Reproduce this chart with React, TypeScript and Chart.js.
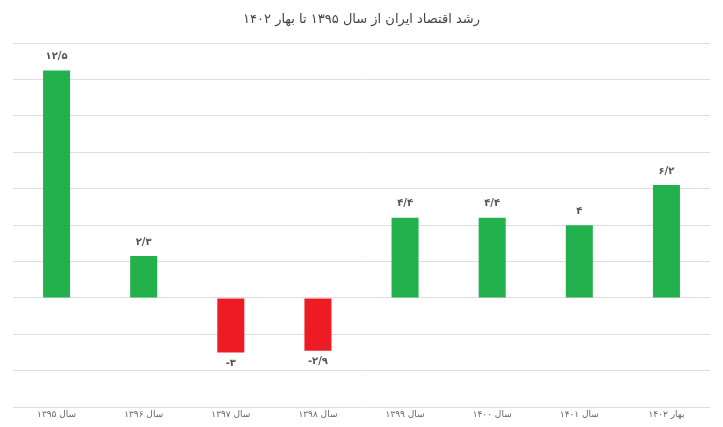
import React, { useEffect, useRef } from "react";
import { Chart, registerables } from "chart.js";

Chart.register(...registerables);

const TITLE = "رشد اقتصاد ایران از سال ۱۳۹۵ تا بهار ۱۴۰۲";
const CATEGORIES = [
  "سال ۱۳۹۵",
  "سال ۱۳۹۶",
  "سال ۱۳۹۷",
  "سال ۱۳۹۸",
  "سال ۱۳۹۹",
  "سال ۱۴۰۰",
  "سال ۱۴۰۱",
  "بهار ۱۴۰۲",
];
const GROWTH = [12.5, 2.3, -3, -2.9, 4.4, 4.4, 4, 6.2];
const Y_MIN = -6;
const Y_MAX = 14;
const Y_STEP = 2;

const GREEN = "#22b14c";
const RED = "#ed1c24";
const FONT = "'DejaVu Sans', 'Noto Sans', sans-serif";

const toPersian = (v: number): string => {
  const digits = "۰۱۲۳۴۵۶۷۸۹";
  const s = String(v).replace(".", "/");
  return s.replace(/[0-9]/g, (d) => digits[Number(d)]);
};

const valueLabels = {
  id: "valueLabels",
  afterDatasetsDraw(chart: any) {
    const ctx = chart.ctx;
    const meta = chart.getDatasetMeta(0);
    ctx.save();
    ctx.font = `bold 10px ${FONT}`;
    ctx.fillStyle = "#555555";
    ctx.textAlign = "center";
    ctx.textBaseline = "middle";
    meta.data.forEach((bar: any, i: number) => {
      const v = GROWTH[i];
      const y = v >= 0 ? bar.y - 14 : bar.y + 11;
      ctx.fillText(toPersian(v), bar.x, y);
    });
    ctx.restore();
  },
};

export default function App() {
  const ref = useRef<HTMLCanvasElement | null>(null);
  useEffect(() => {
    if (!ref.current) return;
    const chart = new Chart(ref.current, {
      type: "bar",
      data: {
        labels: CATEGORIES,
        datasets: [
          {
            data: GROWTH,
            backgroundColor: GROWTH.map((v) => (v >= 0 ? GREEN : RED)),
            barPercentage: 0.31,
            categoryPercentage: 1,
            borderWidth: 0,
          },
        ],
      },
      options: {
        animation: false,
        responsive: false,
        layout: { padding: { left: 13, right: 13, top: 0, bottom: 5 } },
        plugins: {
          legend: { display: false },
          tooltip: { enabled: false },
          title: {
            display: true,
            text: TITLE,
            color: "#444444",
            font: { family: FONT, size: 13, weight: "normal" },
            padding: { top: 12, bottom: 15.5 },
          },
        },
        scales: {
          x: {
            grid: { display: false, drawTicks: false },
            border: { display: false },
            ticks: {
              color: "#666666",
              font: { family: FONT, size: 9 },
              padding: 2,
              maxRotation: 0,
            },
          },
          y: {
            min: Y_MIN,
            max: Y_MAX,
            ticks: { display: false, stepSize: Y_STEP },
            grid: { color: "#dedede", lineWidth: 1, drawTicks: false },
            border: { display: false },
          },
        },
      },
      plugins: [valueLabels],
    });
    return () => chart.destroy();
  }, []);
  return (
    <div style={{ position: "fixed", left: 0, top: 0, width: 723, height: 427, background: "#ffffff" }}>
      <canvas ref={ref} width={723} height={427} />
    </div>
  );
}
